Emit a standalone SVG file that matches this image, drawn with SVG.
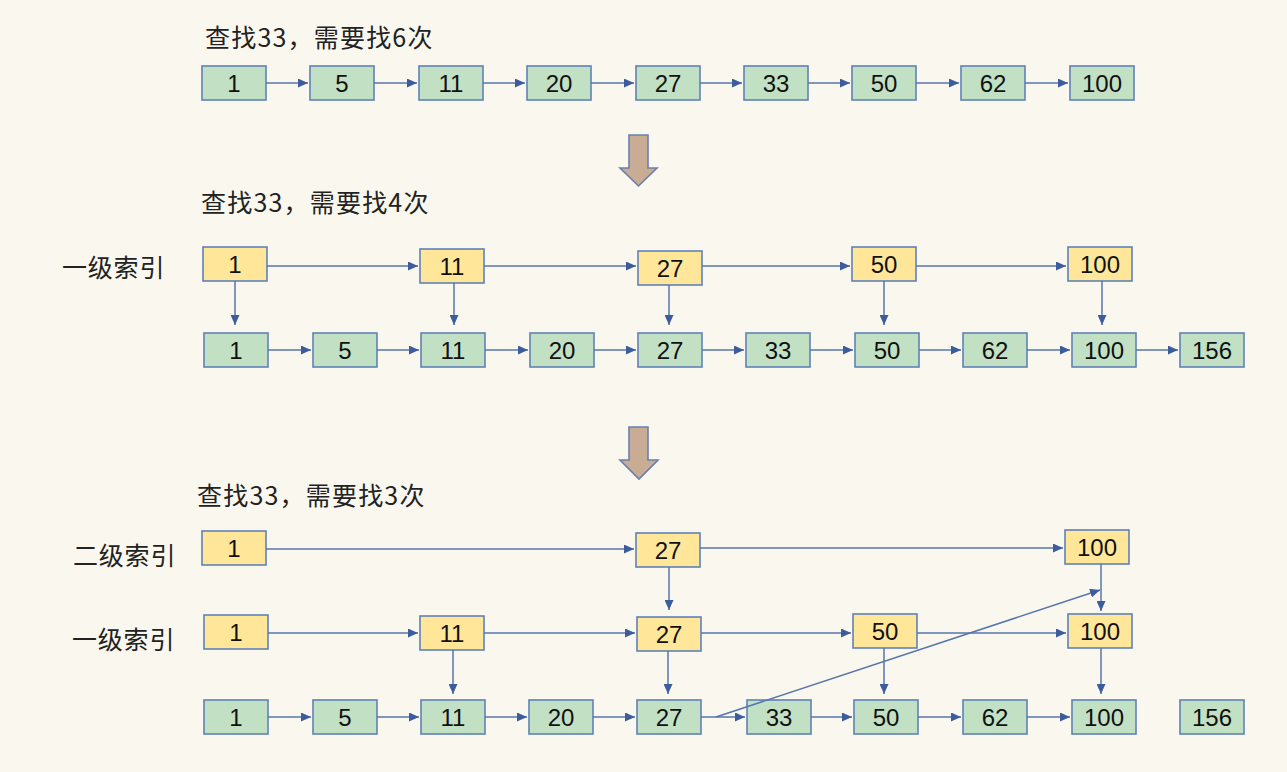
<svg xmlns="http://www.w3.org/2000/svg" width="1287" height="772" viewBox="0 0 1287 772">
<defs>
<marker id="ah" markerUnits="userSpaceOnUse" markerWidth="10" markerHeight="9" refX="10" refY="4.5" orient="auto">
<path d="M0,0 L10,4.5 L0,9 z" fill="#3d5c9e"/>
</marker>
<style>
.g rect{fill:#c2e0c4;stroke:#5f82b8;stroke-width:1.6}
.y rect{fill:#ffe699;stroke:#5f82b8;stroke-width:1.6}
.n text{font-family:"Liberation Sans",Arial,sans-serif;font-size:24px;fill:#111;text-anchor:middle;dominant-baseline:central}
.t{font-family:"Noto Sans CJK SC","Liberation Sans",sans-serif;font-size:25px;fill:#222;dominant-baseline:central;letter-spacing:1.2px}
.l{letter-spacing:0.8px}
#connectors line{stroke:#5676ad;stroke-width:1.5;marker-end:url(#ah)}
.big{fill:#c8ac94;stroke:#6a7fae;stroke-width:1.6}
</style>
</defs>
<rect width="1287" height="772" fill="#faf8ee"/>

<text class="t" x="205" y="35.5">查找33，需要找6次</text>
<text class="t" x="201" y="200.5">查找33，需要找4次</text>
<text class="t" x="197" y="494">查找33，需要找3次</text>
<text class="t l" x="62" y="266">一级索引</text>
<text class="t l" x="73" y="554">二级索引</text>
<text class="t l" x="72" y="637.5">一级索引</text>

<polygon class="big" points="629,135 648,135 648,168 657,168 638.5,186 620,168 629,168"/>
<polygon class="big" points="629,427 648,427 648,460 658,460 639,479 620,460 629,460"/>

<!-- top row -->
<g id="a1" class="n g"><rect x="202" y="66" width="64" height="34"/><text x="234" y="83">1</text></g>
<g id="a5" class="n g"><rect x="310" y="66" width="64" height="34"/><text x="342" y="83">5</text></g>
<g id="a11" class="n g"><rect x="419" y="66" width="64" height="34"/><text x="451" y="83">11</text></g>
<g id="a20" class="n g"><rect x="527" y="66" width="64" height="34"/><text x="559" y="83">20</text></g>
<g id="a27" class="n g"><rect x="636" y="66" width="64" height="34"/><text x="668" y="83">27</text></g>
<g id="a33" class="n g"><rect x="744" y="66" width="64" height="34"/><text x="776" y="83">33</text></g>
<g id="a50" class="n g"><rect x="852" y="66" width="64" height="34"/><text x="884" y="83">50</text></g>
<g id="a62" class="n g"><rect x="961" y="66" width="64" height="34"/><text x="993" y="83">62</text></g>
<g id="a100" class="n g"><rect x="1070" y="66" width="64" height="34"/><text x="1102" y="83">100</text></g>

<!-- middle index -->
<g id="b1i" class="n y"><rect x="203" y="247" width="64" height="34"/><text x="235" y="264">1</text></g>
<g id="b11i" class="n y"><rect x="420" y="249" width="64" height="34"/><text x="452" y="266">11</text></g>
<g id="b27i" class="n y"><rect x="638" y="251" width="64" height="34"/><text x="670" y="268">27</text></g>
<g id="b50i" class="n y"><rect x="852" y="247" width="64" height="34"/><text x="884" y="264">50</text></g>
<g id="b100i" class="n y"><rect x="1068" y="247" width="64" height="34"/><text x="1100" y="264">100</text></g>
<!-- middle list -->
<g id="b1" class="n g"><rect x="204" y="333" width="64" height="34"/><text x="236" y="350">1</text></g>
<g id="b5" class="n g"><rect x="313" y="333" width="64" height="34"/><text x="345" y="350">5</text></g>
<g id="b11" class="n g"><rect x="421" y="333" width="64" height="34"/><text x="453" y="350">11</text></g>
<g id="b20" class="n g"><rect x="530" y="333" width="64" height="34"/><text x="562" y="350">20</text></g>
<g id="b27" class="n g"><rect x="638" y="333" width="64" height="34"/><text x="670" y="350">27</text></g>
<g id="b33" class="n g"><rect x="746" y="333" width="64" height="34"/><text x="778" y="350">33</text></g>
<g id="b50" class="n g"><rect x="855" y="333" width="64" height="34"/><text x="887" y="350">50</text></g>
<g id="b62" class="n g"><rect x="963" y="333" width="64" height="34"/><text x="995" y="350">62</text></g>
<g id="b100" class="n g"><rect x="1072" y="333" width="64" height="34"/><text x="1104" y="350">100</text></g>
<g id="b156" class="n g"><rect x="1180" y="333" width="64" height="34"/><text x="1212" y="350">156</text></g>

<!-- bottom level 2 -->
<g id="c1ii" class="n y"><rect x="202" y="531" width="64" height="34"/><text x="234" y="548">1</text></g>
<g id="c27ii" class="n y"><rect x="636" y="533" width="64" height="34"/><text x="668" y="550">27</text></g>
<g id="c100ii" class="n y"><rect x="1065" y="530" width="64" height="34"/><text x="1097" y="547">100</text></g>
<!-- bottom level 1 -->
<g id="c1i" class="n y"><rect x="204" y="615" width="64" height="34"/><text x="236" y="632">1</text></g>
<g id="c11i" class="n y"><rect x="420" y="616" width="64" height="34"/><text x="452" y="633">11</text></g>
<g id="c27i" class="n y"><rect x="637" y="617" width="64" height="34"/><text x="669" y="634">27</text></g>
<g id="c50i" class="n y"><rect x="853" y="614" width="64" height="34"/><text x="885" y="631">50</text></g>
<g id="c100i" class="n y"><rect x="1068" y="614" width="64" height="34"/><text x="1100" y="631">100</text></g>
<!-- bottom list -->
<g id="c1" class="n g"><rect x="204" y="700" width="64" height="34"/><text x="236" y="717">1</text></g>
<g id="c5" class="n g"><rect x="313" y="700" width="64" height="34"/><text x="345" y="717">5</text></g>
<g id="c11" class="n g"><rect x="421" y="700" width="64" height="34"/><text x="453" y="717">11</text></g>
<g id="c20" class="n g"><rect x="529" y="700" width="64" height="34"/><text x="561" y="717">20</text></g>
<g id="c27" class="n g"><rect x="637" y="700" width="64" height="34"/><text x="669" y="717">27</text></g>
<g id="c33" class="n g"><rect x="747" y="700" width="64" height="34"/><text x="779" y="717">33</text></g>
<g id="c50" class="n g"><rect x="854" y="700" width="64" height="34"/><text x="886" y="717">50</text></g>
<g id="c62" class="n g"><rect x="963" y="700" width="64" height="34"/><text x="995" y="717">62</text></g>
<g id="c100" class="n g"><rect x="1072" y="700" width="64" height="34"/><text x="1104" y="717">100</text></g>
<g id="c156" class="n g"><rect x="1180" y="700" width="64" height="34"/><text x="1212" y="717">156</text></g>

<g id="connectors">
<!-- top -->
<line x1="266" y1="83" x2="308" y2="83"/>
<line x1="374" y1="83" x2="417" y2="83"/>
<line x1="483" y1="83" x2="525" y2="83"/>
<line x1="591" y1="83" x2="634" y2="83"/>
<line x1="700" y1="83" x2="742" y2="83"/>
<line x1="808" y1="83" x2="850" y2="83"/>
<line x1="916" y1="83" x2="959" y2="83"/>
<line x1="1025" y1="83" x2="1068" y2="83"/>
<!-- middle index -->
<line x1="267" y1="266" x2="418" y2="266"/>
<line x1="484" y1="266" x2="636" y2="266"/>
<line x1="702" y1="266" x2="850" y2="266"/>
<line x1="916" y1="266" x2="1066" y2="266"/>
<line x1="235" y1="281" x2="235" y2="325"/>
<line x1="454" y1="283" x2="454" y2="325"/>
<line x1="669" y1="285" x2="669" y2="325"/>
<line x1="884" y1="281" x2="884" y2="325"/>
<line x1="1102" y1="281" x2="1102" y2="325"/>
<!-- middle list -->
<line x1="268" y1="350" x2="311" y2="350"/>
<line x1="377" y1="350" x2="419" y2="350"/>
<line x1="485" y1="350" x2="528" y2="350"/>
<line x1="594" y1="350" x2="636" y2="350"/>
<line x1="702" y1="350" x2="744" y2="350"/>
<line x1="810" y1="350" x2="853" y2="350"/>
<line x1="919" y1="350" x2="961" y2="350"/>
<line x1="1027" y1="350" x2="1070" y2="350"/>
<line x1="1136" y1="350" x2="1178" y2="350"/>
<!-- bottom level 2 -->
<line x1="266" y1="549" x2="634" y2="549"/>
<line x1="700" y1="548" x2="1063" y2="548"/>
<line x1="669" y1="567" x2="669" y2="610"/>
<line x1="1101" y1="564" x2="1101" y2="611"/>
<!-- bottom level 1 -->
<line x1="268" y1="633" x2="418" y2="633"/>
<line x1="484" y1="633" x2="635" y2="633"/>
<line x1="701" y1="633" x2="851" y2="633"/>
<line x1="917" y1="633" x2="1066" y2="633"/>
<line x1="453" y1="650" x2="453" y2="694"/>
<line x1="668" y1="651" x2="668" y2="694"/>
<line x1="884" y1="648" x2="884" y2="694"/>
<line x1="1101" y1="648" x2="1101" y2="694"/>
<!-- bottom list -->
<line x1="268" y1="717" x2="311" y2="717"/>
<line x1="377" y1="717" x2="419" y2="717"/>
<line x1="485" y1="717" x2="527" y2="717"/>
<line x1="593" y1="717" x2="635" y2="717"/>
<line x1="701" y1="717" x2="745" y2="717"/>
<line x1="811" y1="717" x2="852" y2="717"/>
<line x1="918" y1="717" x2="961" y2="717"/>
<line x1="1027" y1="717" x2="1070" y2="717"/>
<line x1="716" y1="717" x2="1100" y2="590"/>
</g>
</svg>
